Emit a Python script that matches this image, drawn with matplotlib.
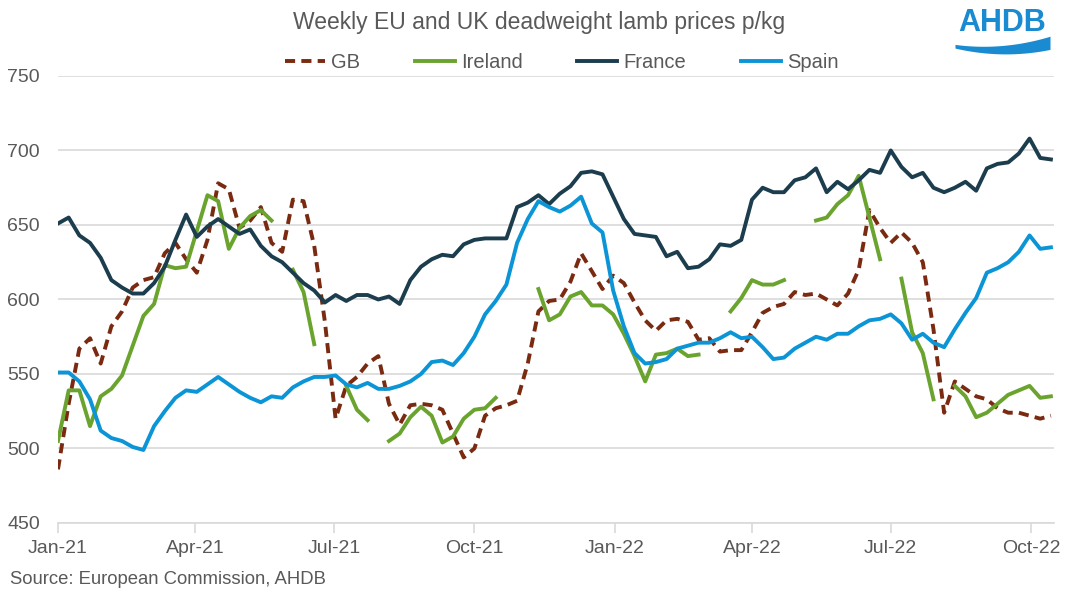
import numpy as np
import pandas as pd
import matplotlib
matplotlib.use('Agg')
import matplotlib.pyplot as plt
import matplotlib.dates as mdates

plt.rcParams['font.family'] = ['Liberation Sans', 'DejaVu Sans']

nan = np.nan

# weekly prices, p/kg, first week 1 Jan 2021
start_date = '2021-01-01'

gb = [486, 530, 567, 574, 557, 582, 592, 608, 613, 615,
      631, 638, 627, 618, 640, 678, 674, 648, 653, 662,
      638, 632, 667, 666, 636, 585, 520, 542, 548, 557,
      562, 530, 516, 529, 530, 529, 526, 510, 494, 500,
      522, 527, 529, 532, 557, 592, 599, 600, 612, 631,
      619, 607, 616, 611, 598, 586, 579, 586, 587, 585,
      573, 574, 565, 566, 566, 578, 591, 595, 597, 605,
      603, 604, 600, 596, 604, 620, 660, 648, 638, 645,
      638, 625, 580, 524, 545, 540, 535, 533, 527, 524,
      524, 522, 520, 522]

ireland = [505, 539, 539, 515, 535, 540, 549, 569, 589, 597,
           623, 621, 622, 646, 670, 666, 634, 648, 656, 660,
           653, nan, 620, 605, 570, nan, nan, 542, 526, 519,
           nan, 505, 510, 521, 528, 522, 504, 508, 520, 526,
           527, 534, nan, nan, nan, 607, 586, 590, 602, 605,
           596, 596, 590, 577, 562, 545, 563, 564, 567, 562,
           563, nan, nan, 592, 601, 613, 610, 610, 613, nan,
           nan, 653, 655, 664, 670, 683, 655, 627, nan, 614,
           578, 564, 533, nan, 542, 535, 521, 524, 530, 536,
           539, 542, 534, 535]

france = [651, 655, 643, 638, 628, 613, 608, 604, 604, 611,
          622, 640, 657, 642, 649, 654, 649, 644, 647, 636,
          629, 625, 618, 611, 606, 598, 603, 599, 603, 603,
          600, 602, 597, 613, 622, 627, 630, 629, 637, 640,
          641, 641, 641, 662, 665, 670, 664, 671, 676, 685,
          686, 684, 669, 654, 644, 643, 642, 629, 632, 621,
          622, 627, 637, 636, 640, 667, 675, 672, 672, 680,
          682, 688, 672, 679, 674, 680, 687, 685, 700, 689,
          682, 685, 675, 672, 675, 679, 673, 688, 691, 692,
          698, 708, 695, 694]

spain = [551, 551, 545, 533, 512, 507, 505, 501, 499, 515,
         525, 534, 539, 538, 543, 548, 543, 538, 534, 531,
         535, 534, 541, 545, 548, 548, 549, 543, 541, 544,
         540, 540, 542, 545, 550, 558, 559, 556, 564, 575,
         590, 599, 610, 638, 654, 666, 662, 659, 663, 669,
         651, 645, 606, 582, 564, 557, 558, 560, 567, 569,
         571, 571, 574, 578, 574, 575, 568, 560, 561, 567,
         571, 575, 573, 577, 577, 582, 586, 587, 590, 584,
         573, 577, 571, 568, 580, 591, 601, 618, 621, 625,
         632, 643, 634, 635]

series_names = ['GB', 'Ireland', 'France', 'Spain']
chart_title = 'Weekly EU and UK deadweight lamb prices p/kg'
source_note = 'Source: European Commission, AHDB'

COLORS = {'GB': '#7a2a10', 'Ireland': '#6aa42e', 'France': '#1b3d4d', 'Spain': '#0b95d6'}
GREY = '#595959'
GRID = '#d9d9d9'
LOGO_BLUE = '#1a8bd0'


def draw_logo(fig):
    # rough AHDB mark: wordmark plus a swoosh underneath
    fig.text(1002 / 1066, 1 - 23 / 597, 'AHDB', color=LOGO_BLUE, fontsize=22,
             fontweight='bold', ha='center', va='center')
    lax = fig.add_axes([955 / 1066, 1 - 58 / 597, 95 / 1066, 22 / 597])
    t = np.linspace(0, 1, 80)
    top = 0.5 + 1.4 * (t - 0.3) ** 2
    bot = top - (0.25 + 0.65 * t)
    lax.fill_between(t, bot, top, color=LOGO_BLUE, lw=0)
    lax.set_xlim(0, 1)
    lax.set_ylim(-0.3, 1.2)
    lax.axis('off')


def main():
    dates = pd.date_range(start_date, periods=len(france), freq='7D')
    prices = pd.DataFrame({'GB': gb, 'Ireland': ireland, 'France': france, 'Spain': spain},
                          index=dates)

    fig = plt.figure(figsize=(10.66, 5.97), dpi=100)
    ax = fig.add_axes([0.0544, 0.124, 0.9343, 0.7487])

    for name in series_names:
        ls = (0, (2.6, 1.6)) if name == 'GB' else '-'
        ax.plot(prices.index, prices[name], color=COLORS[name], lw=2.8, ls=ls, label=name)

    ax.set_ylim(450, 750)
    ax.set_yticks(np.arange(450, 751, 50))
    ax.set_xlim(pd.Timestamp('2021-01-01'), pd.Timestamp('2022-10-16'))
    ax.xaxis.set_major_locator(mdates.MonthLocator(bymonth=[1, 4, 7, 10]))
    ax.xaxis.set_major_formatter(mdates.DateFormatter('%b-%y'))

    ax.grid(axis='y', color=GRID, lw=1.2)
    ax.set_axisbelow(True)
    for side in ('top', 'right', 'left'):
        ax.spines[side].set_visible(False)
    ax.spines['bottom'].set_color(GRID)
    ax.spines['bottom'].set_linewidth(1.2)
    ax.tick_params(axis='x', colors=GRID, length=7, width=1.2, labelcolor=GREY,
                   labelsize=14, pad=5)
    ax.tick_params(axis='y', length=0, labelcolor=GREY, labelsize=14, pad=13)

    fig.text(0.506, 0.963, chart_title, color=GREY, fontsize=16.5, ha='center', va='center')
    fig.legend(loc='center', bbox_to_anchor=(0.527, 1 - 63 / 597), ncol=4, frameon=False,
               fontsize=14.5, handlelength=2.0, columnspacing=2.7, handletextpad=0.3,
               labelcolor=GREY)
    fig.text(10 / 1066, 1 - 579 / 597, source_note, color=GREY, fontsize=13.3,
             ha='left', va='center')

    draw_logo(fig)
    fig.savefig('out.png', dpi=100)


if __name__ == '__main__':
    main()
